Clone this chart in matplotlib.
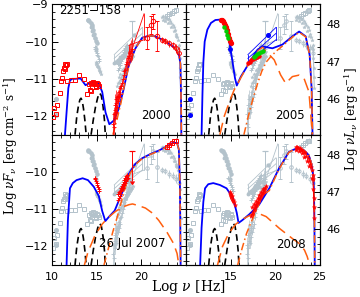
import numpy as np
import matplotlib
matplotlib.use('Agg')
import matplotlib.pyplot as plt
from matplotlib.ticker import MultipleLocator, FuncFormatter

plt.rcParams['font.family'] = ['DejaVu Sans']
plt.rcParams['mathtext.fontset'] = 'dejavuserif'

BLUE = '#0000ff'; ORANGE = '#ff5f0f'; RED = '#ff0000'; GREEN = '#00d000'; GRAY = '#b3c2cb'
LUM_OFFSET = 57.54   # log(4 pi d_L^2)

# ---------------- model components (log nu, log nuFnu) ----------------
torus_x = [12.55, 12.75, 12.95, 13.1, 13.22, 13.35, 13.5, 13.65, 13.8]
torus_y = [-12.5, -12.0, -11.7, -11.56, -11.52, -11.58, -11.8, -12.1, -12.5]
disk_x = [14.35, 14.6, 14.85, 15.1, 15.3, 15.5, 15.7, 15.85, 15.95]
disk_y = [-12.5, -12.1, -11.75, -11.5, -11.38, -11.45, -11.75, -12.1, -12.5]

tot00_x = [11.42, 11.6, 11.8, 11.97, 12.2, 12.6, 13.17, 13.45, 13.73, 14.3, 14.8, 15.2, 15.6, 15.97, 16.4,
           16.9, 17.46, 18.02, 18.58, 19.33, 20.07, 20.82, 21.57, 22.69, 23.8, 24.22, 24.38, 24.44, 24.48]
tot00_y = [-12.5, -11.9, -11.25, -11.05, -11.0, -11.0, -10.99, -11.08, -11.17, -11.1, -11.1, -11.12, -11.35,
           -11.9, -12.22, -12.12, -11.8, -11.26, -10.63, -10.18, -9.9, -9.84, -9.86, -9.99, -10.18, -10.37,
           -10.6, -11.4, -12.5]
ec00_x = [16.8, 17.3, 17.7, 18.1, 18.6, 19.3, 20.1, 20.8, 21.6, 22.69, 23.8, 24.22, 24.38, 24.44, 24.48]
ec00_y = [-12.5, -12.05, -11.65, -11.15, -10.65, -10.19, -9.9, -9.84, -9.86, -9.99, -10.18, -10.37, -10.6,
          -11.4, -12.5]

tot05_x = [11.75, 11.85, 11.95, 12.1, 12.4, 12.8, 13.3, 13.8, 14.1, 14.48, 14.85, 15.22, 15.5, 15.7, 16.16,
           16.72, 17.28, 18.02, 18.58, 19.7, 20.82, 21.94, 22.7, 23.43, 23.88, 24.1, 24.2]
tot05_y = [-12.5, -11.4, -10.55, -10.0, -9.68, -9.5, -9.42, -9.41, -9.45, -9.62, -9.99, -10.54, -10.98,
           -11.18, -10.94, -10.72, -10.49, -10.22, -10.13, -10.18, -10.08, -9.86, -9.73, -9.86, -10.36,
           -11.26, -12.5]
ssc05_x = [13.8, 14.3, 14.9, 15.4, 15.7, 16.2, 16.72, 17.28, 18.02, 18.58, 19.14, 19.9, 20.63, 21.19,
           21.94, 22.69, 23.25, 23.8, 24.18]
ssc05_y = [-12.5, -12.0, -11.6, -11.3, -11.18, -10.95, -10.73, -10.5, -10.24, -10.15, -10.3, -10.49,
           -10.9, -11.12, -10.94, -10.9, -10.99, -11.35, -12.5]
ec05_x = [16.5, 17.0, 17.5, 18.0, 18.5, 19.0, 19.6, 20.3, 20.82, 21.94, 22.7, 23.43, 23.88, 24.1, 24.2]
ec05_y = [-12.5, -12.0, -11.55, -11.15, -10.8, -10.55, -10.38, -10.22, -10.12, -9.88, -9.75, -9.87, -10.37,
          -11.27, -12.5]

tot07_x = [11.6, 11.75, 11.98, 12.3, 12.72, 13.4, 14.0, 14.66, 15.22, 15.6, 15.95, 16.34, 17.0, 17.9,
           18.58, 19.33, 20.1, 21.0, 22.0, 22.8, 23.5, 24.0, 24.2, 24.32, 24.4]
tot07_y = [-12.5, -11.3, -10.44, -10.3, -10.22, -10.17, -10.22, -10.4, -10.65, -11.05, -11.32, -11.21,
           -11.04, -10.52, -10.05, -9.78, -9.63, -9.52, -9.42, -9.32, -9.22, -9.22, -9.4, -10.3, -12.5]
ssc07_x = [13.6, 14.0, 14.8, 15.6, 16.3, 17.1, 17.8, 18.6, 19.0, 19.6, 20.45, 21.2, 21.94, 22.87, 23.6,
           24.0, 24.2]
ssc07_y = [-12.5, -12.15, -11.7, -11.4, -11.22, -11.06, -10.95, -10.88, -10.86, -10.9, -10.97, -11.1,
           -11.3, -11.62, -11.92, -12.19, -12.5]
ec07_x = [15.8, 16.3, 16.8, 17.3, 17.8, 18.3, 18.7, 19.33, 20.1, 21.0, 22.0, 22.8, 23.5, 24.0, 24.2, 24.32,
          24.4]
ec07_y = [-12.5, -12.05, -11.6, -11.2, -10.75, -10.32, -10.05, -9.8, -9.64, -9.53, -9.43, -9.33, -9.23,
          -9.23, -9.4, -10.3, -12.5]

tot08_x = [11.59, 11.75, 11.95, 12.14, 12.5, 13.06, 13.8, 14.55, 15.28, 15.7, 15.9, 16.3, 17.1, 18.2,
           19.35, 20.45, 21.56, 22.3, 22.67, 23.3, 23.78, 24.1, 24.33, 24.4, 24.45]
tot08_y = [-12.5, -11.5, -10.8, -10.44, -10.33, -10.3, -10.35, -10.44, -10.7, -11.1, -11.37, -11.3,
           -11.14, -10.88, -10.44, -9.9, -9.46, -9.38, -9.37, -9.43, -9.55, -9.8, -10.17, -11.0, -12.5]
ssc08_x = [13.54, 14.1, 14.8, 15.6, 16.5, 17.3, 18.2, 19.0, 19.7, 20.5, 21.2, 22.0, 22.7, 23.3, 23.6, 23.88]
ssc08_y = [-12.5, -12.0, -11.65, -11.4, -11.25, -11.15, -11.12, -11.2, -11.35, -11.52, -11.65, -11.8,
           -11.92, -12.1, -12.27, -12.5]
ec08_x = [15.8, 16.3, 16.8, 17.4, 18.0, 18.6, 19.35, 20.45, 21.56, 22.3, 22.67, 23.3, 23.78, 24.1, 24.33,
          24.4, 24.45]
ec08_y = [-12.5, -12.05, -11.65, -11.3, -10.98, -10.62, -10.5, -9.92, -9.47, -9.38, -9.37, -9.43, -9.55,
          -9.8, -10.17, -11.0, -12.5]

# ---------------- data: 2000 ----------------
rad00_x = [10.07, 10.2, 10.45, 10.56, 10.82, 11.01, 11.12, 11.19, 11.31, 11.38, 11.46, 11.49, 11.6, 11.7,
           12.05, 12.5, 13.05]
rad00_y = [-12.03, -11.78, -11.94, -11.69, -11.37, -11.05, -10.97, -10.78, -10.72, -10.73, -10.59, -10.64,
           -10.61, -11.05, -11.03, -11.02, -10.9]
opt00_x = [13.6, 13.9, 14.1, 14.2, 14.3, 14.36, 14.45, 14.5, 14.6, 14.7, 14.75, 14.85, 14.9, 15.0, 15.1, 15.2]
opt00_y = [-11.0, -11.4, -11.15, -11.3, -11.1, -11.32, -11.12, -11.22, -11.08, -11.15, -11.1, -11.2, -11.23,
           -11.12, -11.15, -11.2]
xr00_x = [16.85, 16.9, 16.95, 17.0, 17.0, 17.05, 17.1, 17.15, 17.2, 17.25, 17.3, 17.35, 17.4, 17.45, 17.5,
          17.55, 17.6, 17.7, 17.8, 17.9, 18.0, 18.1, 18.2, 18.3, 18.4, 18.5, 18.6, 18.7, 18.8, 18.9]
xr00_y = [-12.2, -11.95, -12.3, -11.7, -12.05, -11.85, -11.55, -11.9, -11.65, -11.5, -11.75, -11.45, -11.6,
          -11.35, -11.5, -11.25, -11.4, -11.2, -11.1, -11.0, -10.9, -10.8, -10.75, -10.6, -10.55, -10.45,
          -10.4, -10.3, -10.25, -10.2]
xr00_e = [0.3, 0.2, 0.2, 0.3, 0.15, 0.2, 0.25, 0.15, 0.2, 0.15, 0.2, 0.15, 0.1, 0.15, 0.1, 0.1, 0.1, 0.1,
          0.1, 0.1, 0.1, 0.1, 0.12, 0.15, 0.2, 0.2, 0.25, 0.25, 0.3, 0.3]
bow00_x = [18.6, 20.3]
bow00_hi = [-10.45, -9.25]
bow00_lo = [-10.1, -9.95]
cpt00_x = [20.6, 21.05, 21.25, 21.75]
cpt00_y = [-9.9, -9.55, -9.45, -9.86]
cpt00_e = [0.3, 0.25, 0.2, 0.4]
egr00_x = [22.3, 22.7, 23.1, 23.5, 23.9, 24.2]
egr00_y = [-9.95, -9.98, -10.05, -10.1, -10.18, -10.3]
egr00_e = [0.08, 0.08, 0.1, 0.1, 0.12, 0.15]

# ---------------- data: 2005 ----------------
rad05_x = [10.4, 10.4]
rad05_y = [-11.55, -11.97]
opt05_x = [13.95, 14.05, 14.15, 14.3, 14.4, 14.5, 14.6, 14.7, 14.8, 14.9, 15.0]
opt05_y = [-9.41, -9.43, -9.45, -9.5, -9.55, -9.62, -9.7, -9.8, -9.9, -9.98, -10.05]
grn05_x = [14.3, 14.45, 14.6, 14.75]
grn05_y = [-9.62, -9.72, -9.82, -9.9]
uv05_x = [14.9]
uv05_y = [-10.2]
bow05_x = [16.95, 20.1]
bow05_hi = [-10.35, -9.62]
bow05_mid = [-10.45, -9.78]
bow05_lo = [-10.55, -9.95]
xb05_x = [19.16]
xb05_y = [-9.82]
xr05_x = [16.95, 17.15, 17.35, 17.55, 17.75, 17.95, 18.15]
xr05_y = [-10.58, -10.54, -10.5, -10.47, -10.44, -10.42, -10.4]
xg05_x = [17.6, 17.8, 18.0, 18.2, 18.4, 18.6]
xg05_y = [-10.42, -10.38, -10.33, -10.3, -10.27, -10.25]

# ---------------- data: 26 Jul 2007 ----------------
opt07_x = [14.75, 14.82, 14.9, 14.97, 15.05, 15.12, 15.2, 15.28]
opt07_y = [-10.15, -10.2, -10.25, -10.3, -10.35, -10.4, -10.46, -10.52]
xr07_x = [17.35, 17.45, 17.55, 17.65, 17.75, 17.85, 17.95, 18.05, 18.15, 18.25, 18.35, 18.45,
          17.4, 17.5, 17.6, 17.7, 17.8, 17.9, 18.0, 18.1, 18.2, 18.3, 18.4]
xr07_y = [-10.75, -10.7, -10.64, -10.58, -10.52, -10.47, -10.42, -10.36, -10.31, -10.25, -10.2, -10.15,
          -10.6, -10.55, -10.5, -10.44, -10.38, -10.33, -10.27, -10.22, -10.17, -10.12, -10.08]
ul07_x = [18.9]
ul07_y = [-9.45]
gam07_x = [22.9, 23.15, 23.4, 23.65, 23.85]
gam07_y = [-9.32, -9.27, -9.22, -9.18, -9.16]

# ---------------- data: 2008 ----------------
opt08_x = [14.9, 14.95, 15.0, 15.05, 15.1, 15.15, 15.2, 15.25, 15.3, 15.4, 15.5]
opt08_y = [-10.55, -10.6, -10.58, -10.65, -10.68, -10.65, -10.72, -10.75, -10.78, -10.82, -10.88]
xr08_x = [17.3, 17.4, 17.5, 17.6, 17.7, 17.8, 17.9, 18.0, 18.1, 18.2, 18.3, 18.4, 18.5, 18.6, 18.7, 18.8,
          18.9, 19.0, 17.45, 17.65, 17.85, 18.05, 18.25, 18.45, 18.65]
xr08_y = [-11.18, -11.12, -11.08, -11.02, -10.98, -10.92, -10.88, -10.84, -10.8, -10.74, -10.7, -10.65,
          -10.6, -10.56, -10.5, -10.46, -10.42, -10.38, -10.95, -10.86, -10.77, -10.7, -10.62, -10.54, -10.47]
gam08_x = [22.3, 22.45, 22.6, 22.75, 22.9, 23.05, 23.2, 23.35, 23.5, 23.65, 23.8, 23.9, 24.0, 24.1, 24.2,
           22.4, 22.7, 23.0, 23.3, 23.6, 23.85, 24.15]
gam08_y = [-9.33, -9.32, -9.36, -9.35, -9.4, -9.4, -9.46, -9.5, -9.56, -9.62, -9.7, -9.8, -9.88, -9.96,
           -10.08, -9.42, -9.45, -9.5, -9.6, -9.72, -9.85, -10.15]
vhe08_x = [24.25, 24.3, 24.33, 24.36, 24.4]
vhe08_y = [-10.2, -10.45, -10.7, -10.95, -11.25]

EPOCHS = ['2000', '2005', '2007', '2008']
PANEL_TEXT = {'2000': (21.6, -11.98, '2000'), '2005': (21.7, -11.98, '2005'),
              '2007': (19.0, -11.91, '26 Jul 2007'), '2008': (21.76, -11.94, '2008')}
MODELS = {'2000': [(tot00_x, tot00_y, 'tot'), (ec00_x, ec00_y, 'ec')],
          '2005': [(tot05_x, tot05_y, 'tot'), (ssc05_x, ssc05_y, 'ssc'), (ec05_x, ec05_y, 'ec')],
          '2007': [(tot07_x, tot07_y, 'tot'), (ssc07_x, ssc07_y, 'ssc'), (ec07_x, ec07_y, 'ec')],
          '2008': [(tot08_x, tot08_y, 'tot'), (ssc08_x, ssc08_y, 'ssc'), (ec08_x, ec08_y, 'ec')]}


def col(c, gray):
    return GRAY if gray else c


def draw_epoch(ax, ep, gray):
    z = 2 if gray else 6
    k = 0.8 if gray else 1.0
    if ep == '2000':
        c = col(RED, gray)
        for xs, ys in ((rad00_x, rad00_y), (opt00_x, opt00_y)):
            ax.plot(xs, ys, 's', mfc='none', mec=c, ms=2.8 * k, mew=0.7, zorder=z)
        ax.errorbar(xr00_x, xr00_y, yerr=xr00_e, fmt='+', color=c, ms=2.5, mew=0.6, elinewidth=0.5,
                    capsize=0, zorder=z)
        ax.plot(bow00_x, bow00_hi, color=c, lw=0.6, zorder=z)
        ax.plot(bow00_x, bow00_lo, color=c, lw=0.6, zorder=z)
        ax.plot([bow00_x[1]] * 2, [bow00_lo[1], bow00_hi[1]], color=c, lw=0.6, zorder=z)
        ax.plot([bow00_x[0]] * 2, [bow00_hi[0], bow00_lo[0]], color=c, lw=0.6, zorder=z)
        ax.errorbar(cpt00_x, cpt00_y, yerr=cpt00_e, fmt='o', mfc='none', mec=c, ecolor=c, ms=3.2 * k,
                    mew=0.7, elinewidth=0.6, capsize=1.5, zorder=z)
        ax.errorbar(egr00_x, egr00_y, yerr=egr00_e, fmt='o', mfc='none', mec=c, ecolor=c, ms=2.8 * k,
                    mew=0.7, elinewidth=0.6, capsize=0, zorder=z)
    elif ep == '2005':
        cb = col(BLUE, gray)
        ax.plot(rad05_x, rad05_y, 'o', color=cb, ms=2.6, zorder=z)
        ax.plot(opt05_x, opt05_y, 'o', color=col(RED, gray), ms=2.8 * k, zorder=z)
        ax.plot(grn05_x, grn05_y, 'o', color=col(GREEN, gray), ms=2.2 * k, zorder=z + 0.1)
        ax.errorbar(uv05_x, uv05_y, yerr=0.08, fmt='o', color=cb, ms=2.5 * k, elinewidth=0.6, capsize=1,
                    zorder=z)
        for yy in (bow05_hi, bow05_mid, bow05_lo):
            ax.plot(bow05_x, yy, color=cb, lw=0.6, zorder=z)
        ax.plot([bow05_x[0]] * 2, [bow05_lo[0], bow05_hi[0]], color=cb, lw=0.6, zorder=z)
        ax.plot([bow05_x[1]] * 2, [bow05_lo[1], bow05_hi[1]], color=cb, lw=0.6, zorder=z)
        ax.plot(xb05_x, xb05_y, 'o', color=cb, ms=2.6 * k, zorder=z)
        ax.plot(xr05_x, xr05_y, 'o', color=col(RED, gray), ms=2.2 * k, zorder=z)
        ax.plot(xg05_x, xg05_y, 'o', color=col(GREEN, gray), ms=2.2 * k, zorder=z)
    elif ep == '2007':
        c = col(RED, gray)
        ax.errorbar(opt07_x, opt07_y, yerr=0.04, fmt='+', color=c, ms=2.5, mew=0.7, elinewidth=0.5,
                    zorder=z)
        ax.errorbar(xr07_x, xr07_y, yerr=0.05, fmt='+', color=c, ms=2.5, mew=0.7, elinewidth=0.5,
                    zorder=z)
        ax.errorbar(ul07_x, ul07_y, yerr=0.8, uplims=True, fmt='_', color=c, ms=4, mew=0.8,
                    elinewidth=0.7, capsize=1.5, zorder=z)
        ax.errorbar(gam07_x, gam07_y, yerr=0.07, fmt='s', mfc='none', mec=c, ecolor=c, ms=2.2,
                    mew=0.7, elinewidth=0.6, zorder=z)
    else:
        c = col(RED, gray)
        ms = 2.6 if gray else 3.2
        ax.plot(opt08_x, opt08_y, '*', color=c, ms=ms, mew=0.3, zorder=z)
        ax.plot(xr08_x, xr08_y, '*', color=c, ms=ms, mew=0.3, zorder=z)
        ax.plot(gam08_x, gam08_y, '*', color=c, ms=ms, mew=0.3, zorder=z)
        ax.plot(vhe08_x, vhe08_y, '*-', color=c, ms=ms, mew=0.3, lw=0.8, zorder=z)


fig = plt.figure(figsize=(3.6, 2.97), dpi=100)
L, W, B, H = 0.1453, 0.3713, 0.1077, 0.4388
pos = {'2000': [L, B + H, W, H], '2005': [L + W, B + H, W, H],
       '2007': [L, B, W, H], '2008': [L + W, B, W, H]}

for ep in EPOCHS:
    ax = fig.add_axes(pos[ep])
    ax.set_xlim(10, 25)
    ax.set_ylim(-12.5, -9)
    for other in EPOCHS:
        if other != ep:
            draw_epoch(ax, other, True)
    ax.plot(torus_x, torus_y, color='k', ls=(0, (4, 2.5)), lw=1.2, zorder=3)
    ax.plot(disk_x, disk_y, color='k', ls=(0, (4, 2.5)), lw=1.2, zorder=3)
    for mx, my, kind in MODELS[ep]:
        if kind == 'tot':
            ax.plot(mx, my, color=BLUE, lw=1.3, zorder=4)
        elif kind == 'ec':
            ax.plot(mx, my, color=ORANGE, lw=1.1, ls=(0, (5, 2, 1, 2)), zorder=5)
        else:
            ax.plot(mx, my, color=ORANGE, lw=1.1, ls=(0, (8, 4)), zorder=4.5)
    draw_epoch(ax, ep, False)
    tx, ty, tt = PANEL_TEXT[ep]
    ax.text(tx, ty, tt, ha='center', va='center', fontsize=8.5, zorder=8)
    if ep == '2000':
        ax.text(10.8, -9.16, '2251\u2212158', ha='left', va='center', fontsize=8.5, zorder=8)

    ax.xaxis.set_major_locator(MultipleLocator(5))
    ax.xaxis.set_minor_locator(MultipleLocator(1))
    ax.yaxis.set_major_locator(MultipleLocator(1))
    ax.yaxis.set_minor_locator(MultipleLocator(0.2))
    left = ep in ('2000', '2007')
    bottom = ep in ('2007', '2008')
    ax.tick_params(which='both', direction='in', top=True, bottom=True, left=True, right=left,
                   labelsize=8, pad=3)
    ax.tick_params(which='major', length=4, width=0.7)
    ax.tick_params(which='minor', length=2, width=0.6)
    ax.tick_params(axis='x', pad=5)
    if not bottom:
        ax.tick_params(axis='x', labelbottom=False)
    else:
        hide = 25 if left else 10
        ax.xaxis.set_major_formatter(FuncFormatter(
            lambda v, p, h=hide: '' if abs(v - h) < 1e-6 else '%d' % v))
    if not left:
        ax.tick_params(axis='y', labelleft=False)
        ax2 = ax.twinx()
        ax2.set_ylim(-12.5 + LUM_OFFSET, -9 + LUM_OFFSET)
        ax2.yaxis.set_major_locator(MultipleLocator(1))
        ax2.yaxis.set_minor_locator(MultipleLocator(0.2))
        ax2.tick_params(which='both', direction='in', labelsize=8, pad=5)
        ax2.tick_params(which='major', length=4, width=0.7)
        ax2.tick_params(which='minor', length=2, width=0.6)
        for s in ax2.spines.values():
            s.set_linewidth(0.8)
    else:
        if ep == '2007':
            ax.yaxis.set_major_formatter(FuncFormatter(
                lambda v, p: '' if abs(v + 9) < 1e-6 else '\u2212%d' % abs(v)))
        else:
            ax.yaxis.set_major_formatter(FuncFormatter(lambda v, p: '\u2212%d' % abs(v)))
    for s in ax.spines.values():
        s.set_linewidth(0.8)

fig.text(0.522, 0.034, r'Log $\nu$ [Hz]', ha='center', va='center', fontsize=10, family='DejaVu Serif')
fig.text(0.03, 0.508, r'Log $\nu F_\nu$ [erg cm$^{-2}$ s$^{-1}$]', rotation=90, ha='center',
         va='center', fontsize=8.6, family='DejaVu Serif')
fig.text(0.976, 0.598, r'Log $\nu L_\nu$ [erg s$^{-1}$]', rotation=90, ha='center', va='center',
         fontsize=8.6, family='DejaVu Serif')

fig.savefig('out.png', dpi=100)
